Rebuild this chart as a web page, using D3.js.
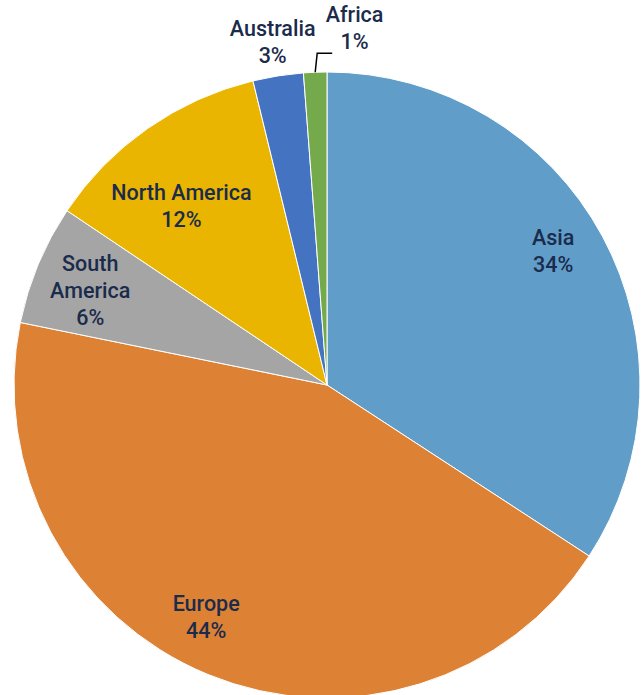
<!DOCTYPE html>
<html>
<head>
<meta charset="utf-8">
<script src="https://cdn.jsdelivr.net/npm/d3@7"></script>
<style>
  body { margin: 0; background: #fff; }
  svg { display: block; }
</style>
</head>
<body>
<script>
const width = 643;
const height = 695;

// slices, clockwise from 12 o'clock
const regions = ["Asia", "Europe", "South America", "North America", "Australia", "Africa"];
const shares = [34.2, 44.0, 6.2, 11.8, 2.6, 1.2];
const colors = ["#619dc9", "#dd8235", "#a5a5a5", "#e9b500", "#4473c2", "#74aa4b"];
// label text lines (South America wraps)
const labelLines = [["Asia"], ["Europe"], ["South", "America"], ["North America"], ["Australia"], ["Africa"]];

const cx = 327, cy = 385, radius = 313;

const svg = d3.select("body")
	.append("svg")
	.attr("width", width)
	.attr("height", height);

const g = svg.append("g")
	.attr("transform", `translate(${cx},${cy})`);

const pie = d3.pie().sort(null).value(d => d);
const arcs = pie(shares);
const total = d3.sum(shares);

const arc = d3.arc().innerRadius(0).outerRadius(radius);

g.selectAll("path")
	.data(arcs)
	.enter()
	.append("path")
	.attr("d", arc)
	.attr("fill", (d, i) => colors[i])
	.style("stroke", "white")
	.style("stroke-width", 1);

// label radius (fraction of pie radius) and small nudges, roughly like excel's best fit
const labelR = [0.84, 0.84, 0.82, 0.74, 1.11, 1.14];
const nudge = [[-5, -9], [-21, -11], [0, 4], [-13, 11], [0, 0], [41, 0]];

const lineH = 27;
const fontSize = 21.5;

arcs.forEach(function(d, i) {
	const a = (d.startAngle + d.endAngle) / 2;
	const r = radius * labelR[i];
	const x = Math.sin(a) * r + nudge[i][0];
	const y = -Math.cos(a) * r + nudge[i][1];
	const lines = labelLines[i].concat([Math.round(d.value / total * 100) + "%"]);
	const y0 = y - (lines.length - 1) * lineH / 2;
	const t = g.append("text")
		.attr("text-anchor", "middle")
		.attr("font-family", "Roboto, 'Noto Sans', sans-serif")
		.attr("font-weight", 500)
		.attr("font-size", fontSize)
		.attr("fill", "#1b2b4b");
	lines.forEach(function(s, k) {
		t.append("tspan")
			.attr("x", x)
			.attr("y", y0 + k * lineH)
			.attr("dy", "0.35em")
			.text(s);
	});
});

// leader line for Africa
const af = arcs[5];
const afA = (af.startAngle + af.endAngle) / 2;
const p0 = [Math.sin(afA) * radius, -Math.cos(afA) * radius];
const p1 = [p0[0] + 2, p0[1] - 19];
const p2 = [p1[0] + 15, p1[1]];
g.append("path")
	.attr("d", d3.line()([p0, p1, p2]))
	.attr("fill", "none")
	.attr("stroke", "#000")
	.attr("stroke-width", 1.5);
</script>
</body>
</html>
